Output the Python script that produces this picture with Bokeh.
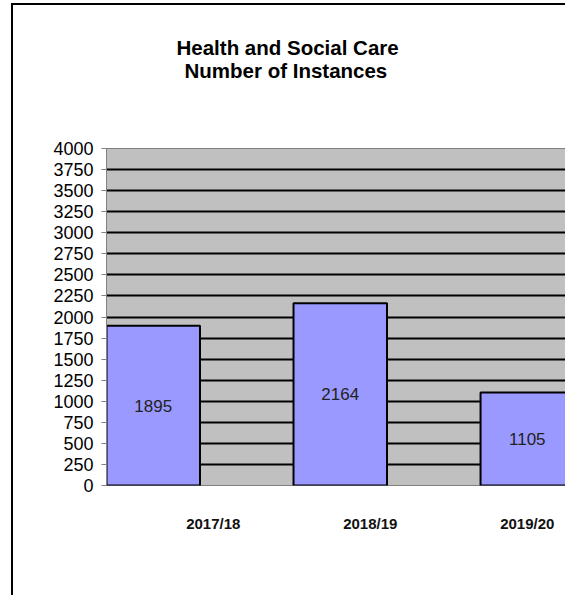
from bokeh.plotting import figure
from bokeh.models import (Range1d, LinearAxis, FixedTicker, ColumnDataSource, Title)
from bokeh.core.properties import value
from bokeh.embed import file_html
from bokeh.resources import INLINE

# ---- data ----
categories = ["2017/18", "2018/19", "2019/20"]
instances = [1895, 2164, 1105]
y_ticks = [0, 250, 500, 750, 1000, 1250, 1500, 1750, 2000, 2250, 2500,
           2750, 3000, 3250, 3500, 3750, 4000]
title_lines = ["Health and Social Care", "Number of Instances"]

FONT = "Liberation Sans"

idx = list(range(len(categories)))
src = ColumnDataSource(dict(
    x=idx,
    top=instances,
    mid=[v / 2 for v in instances],
    lab=[str(v) for v in instances],
))

p = figure(width=554, height=592, output_backend="svg", toolbar_location=None,
           x_range=Range1d(-0.25, 2.215), y_range=Range1d(0, 4000),
           x_axis_location=None,
           min_border_left=93, min_border_right=0,
           min_border_top=143, min_border_bottom=112)
p.styles = {"border-left": "2px solid black", "border-top": "2px solid black",
            "margin-left": "11px", "margin-top": "3px"}

p.background_fill_color = "#C0C0C0"
p.border_fill_color = "white"
p.outline_line_color = "#808080"
p.outline_line_width = 1

p.xgrid.visible = False
p.ygrid.ticker = FixedTicker(ticks=y_ticks[1:-1])
p.ygrid.grid_line_color = "black"
p.ygrid.grid_line_width = 2

yax = p.yaxis[0]
yax.ticker = FixedTicker(ticks=y_ticks)
yax.axis_line_color = "#808080"
yax.major_tick_line_color = "#808080"
yax.major_tick_out = 5
yax.major_tick_in = 0
yax.minor_tick_line_color = None
yax.major_label_standoff = 8
yax.major_label_text_font = FONT
yax.major_label_text_font_size = "18px"
yax.major_label_text_color = "black"

p.vbar(x="x", top="top", width=0.5, source=src,
       fill_color="#9999FF", line_color="black", line_width=2)

p.text(x="x", y="mid", text="lab", source=src,
       text_align="center", text_baseline="middle",
       text_font=value(FONT), text_font_size="17px", text_color="#222222")

# category axis
p.extra_x_ranges = {"cat": Range1d(-0.68, 2.256)}
xax = LinearAxis(x_range_name="cat", ticker=FixedTicker(ticks=idx),
                 major_label_overrides={i: c for i, c in enumerate(categories)})
xax.axis_line_color = None
xax.major_tick_line_color = None
xax.minor_tick_line_color = None
xax.major_label_standoff = 23
xax.major_label_text_font = FONT
xax.major_label_text_font_style = "bold"
xax.major_label_text_font_size = "15px"
xax.major_label_text_color = "#111111"
p.add_layout(xax, "below")

# two-line title (spacer first: panels stack outward from the frame)
p.add_layout(Title(text=" ", text_font_size="1px", standoff=64), "above")
p.add_layout(Title(text=title_lines[1], align="left", offset=78, standoff=0,
                   vertical_align="bottom", text_font=FONT,
                   text_font_style="bold", text_font_size="20.5px",
                   text_color="black"), "above")
p.add_layout(Title(text=title_lines[0], align="left", offset=70, standoff=-5,
                   vertical_align="bottom", text_font=FONT,
                   text_font_style="bold", text_font_size="20.5px",
                   text_color="black"), "above")

open("out.html", "w").write(file_html(p, INLINE))
